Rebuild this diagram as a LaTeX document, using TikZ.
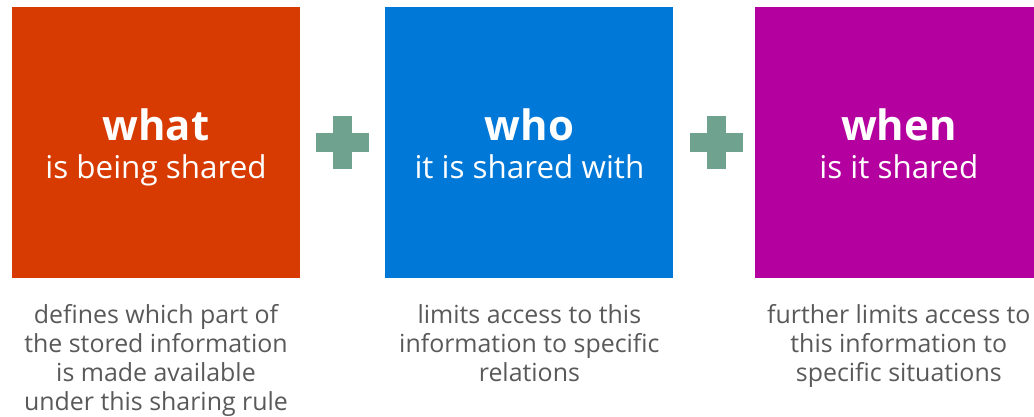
\documentclass[tikz,border=0pt]{standalone}
\usepackage{fontspec}
\setmainfont{Open Sans}
\usetikzlibrary{positioning, calc}
\definecolor{whatred}{HTML}{D83B01}
\definecolor{whoblue}{HTML}{0078D7}
\definecolor{whenpurple}{HTML}{B4009E}
\definecolor{plusgreen}{HTML}{6FA28F}
\definecolor{notegray}{HTML}{595959}

\begin{document}
\begin{tikzpicture}[x=1bp, y=1bp,
  card/.style={minimum width=288bp, minimum height=271bp, inner sep=0pt},
  head/.style={anchor=base, inner sep=0pt, text=white, font=\fontsize{42}{42}\selectfont\bfseries},
  sub/.style={anchor=base, inner sep=0pt, text=white, font=\fontsize{31.5}{31.5}\selectfont},
  note/.style={anchor=north, inner sep=0pt, align=center, text=notegray, font=\fontsize{25}{29}\selectfont},
  plusbar/.style={fill=plusgreen}
]
\useasboundingbox (0,0) rectangle (1034,416);

% The three cards
\node[card, fill=whatred] (what) at (156, 273.5) {};
\node[card, fill=whoblue, right=85bp of what] (who) {};
\node[card, fill=whenpurple, right=81bp of who] (when) {};

% Card texts
\node[head] (whathead) at ($(what.center)+(0,2.5)$) {what};
\node[sub] (whatsub) at ($(what.center)+(0,-35.5)$) {is being shared};
\node[head] (whohead) at ($(who.center)+(0,2.5)$) {who};
\node[sub] (whosub) at ($(who.center)+(0,-35.5)$) {it is shared with};
\node[head] (whenhead) at ($(when.center)+(0,2.5)$) {when};
\node[sub] (whensub) at ($(when.center)+(0,-35.5)$) {is it shared};

% Plus signs
\coordinate (plusA) at ($(what.east)!0.5!(who.west)$);
\coordinate (plusB) at ($(who.east)!0.5!(when.west)+(2,0)$);
\fill[plusbar] ([xshift=-26.5bp, yshift=-9.5bp]plusA) rectangle ([xshift=26.5bp, yshift=9.5bp]plusA);
\fill[plusbar] ([xshift=-9.5bp, yshift=-26.5bp]plusA) rectangle ([xshift=9.5bp, yshift=26.5bp]plusA);
\fill[plusbar] ([xshift=-26.5bp, yshift=-9.5bp]plusB) rectangle ([xshift=26.5bp, yshift=9.5bp]plusB);
\fill[plusbar] ([xshift=-9.5bp, yshift=-26.5bp]plusB) rectangle ([xshift=9.5bp, yshift=26.5bp]plusB);

% Notes below
\node[note, below=26bp of what] (whatnote) {defines which part of\\the stored information\\is made available\\under this sharing rule};
\node[note, below=26bp of who] (whonote) {limits access to this\\information to specific\\relations};
\node[note, below=26bp of when] (whennote) {further limits access to\\this information to\\specific situations};

\end{tikzpicture}
\end{document}
